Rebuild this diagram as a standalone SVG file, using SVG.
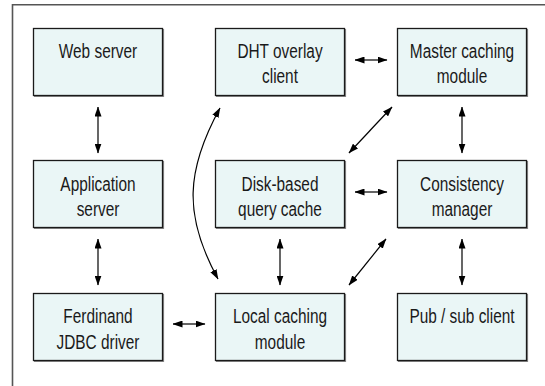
<svg xmlns="http://www.w3.org/2000/svg" width="545" height="386" viewBox="0 0 545 386">
<defs>
<marker id="ah" viewBox="0 0 10 7" refX="9.5" refY="3.5" markerWidth="10" markerHeight="7" markerUnits="userSpaceOnUse" orient="auto-start-reverse">
<path d="M0,0 L10,3.5 L0,7 z" fill="#000"/>
</marker>
<style>
.box{fill:#eaf6f6;stroke:#1a1a1a;stroke-width:1.3}
.sh{fill:none;stroke:#8a8a8a;stroke-width:1.2}
.t{font-family:"Liberation Sans",Arial,sans-serif;font-size:20px;fill:#1a1a1a;text-anchor:middle}
.c{fill:none;stroke:#000;stroke-width:1.2;marker-start:url(#ah);marker-end:url(#ah)}
</style>
</defs>
<rect width="545" height="386" fill="#fff"/>
<path d="M12.5,390 V4.8 H550" fill="none" stroke="#555" stroke-width="1.6"/>

<g id="web-server">
<path class="sh" d="M163.5,29 V96.5 H34"/>
<rect class="box" x="33.5" y="28.5" width="129" height="67"/>
<text class="t" transform="translate(98,58) scale(0.77,1)">Web server</text>
</g>
<g id="dht-overlay-client">
<path class="sh" d="M345.5,29 V96.5 H216"/>
<rect class="box" x="215.5" y="28.5" width="129" height="67"/>
<text class="t" transform="translate(280,58) scale(0.77,1)">DHT overlay</text>
<text class="t" transform="translate(280,83) scale(0.77,1)">client</text>
</g>
<g id="master-caching-module">
<path class="sh" d="M527.5,29 V96.5 H398"/>
<rect class="box" x="397.5" y="28.5" width="129" height="67"/>
<text class="t" transform="translate(462,58) scale(0.77,1)">Master caching</text>
<text class="t" transform="translate(462,83) scale(0.77,1)">module</text>
</g>
<g id="application-server">
<path class="sh" d="M163.5,161 V228.5 H34"/>
<rect class="box" x="33.5" y="160.5" width="129" height="67"/>
<text class="t" transform="translate(98,191) scale(0.77,1)">Application</text>
<text class="t" transform="translate(98,216) scale(0.77,1)">server</text>
</g>
<g id="disk-based-query-cache">
<path class="sh" d="M345.5,161 V228.5 H216"/>
<rect class="box" x="215.5" y="160.5" width="129" height="67"/>
<text class="t" transform="translate(280,191) scale(0.77,1)">Disk-based</text>
<text class="t" transform="translate(280,216) scale(0.77,1)">query cache</text>
</g>
<g id="consistency-manager">
<path class="sh" d="M527.5,161 V228.5 H398"/>
<rect class="box" x="397.5" y="160.5" width="129" height="67"/>
<text class="t" transform="translate(462,191) scale(0.77,1)">Consistency</text>
<text class="t" transform="translate(462,216) scale(0.77,1)">manager</text>
</g>
<g id="ferdinand-jdbc-driver">
<path class="sh" d="M163.5,294 V361.5 H34"/>
<rect class="box" x="33.5" y="293.5" width="129" height="67"/>
<text class="t" transform="translate(98,323) scale(0.77,1)">Ferdinand</text>
<text class="t" transform="translate(98,349) scale(0.77,1)">JDBC driver</text>
</g>
<g id="local-caching-module">
<path class="sh" d="M345.5,294 V361.5 H216"/>
<rect class="box" x="215.5" y="293.5" width="129" height="67"/>
<text class="t" transform="translate(280,323) scale(0.77,1)">Local caching</text>
<text class="t" transform="translate(280,349) scale(0.77,1)">module</text>
</g>
<g id="pub-sub-client">
<path class="sh" d="M527.5,294 V361.5 H398"/>
<rect class="box" x="397.5" y="293.5" width="129" height="67"/>
<text class="t" transform="translate(462,323) scale(0.77,1)">Pub / sub client</text>
</g>

<g id="connectors">
<line class="c" x1="98" y1="107" x2="98" y2="153"/>
<line class="c" x1="98" y1="239" x2="98" y2="285"/>
<line class="c" x1="280" y1="239" x2="280" y2="285"/>
<line class="c" x1="462" y1="107" x2="462" y2="153"/>
<line class="c" x1="462" y1="239" x2="462" y2="285"/>
<line class="c" x1="355" y1="60" x2="387" y2="60"/>
<line class="c" x1="355" y1="192" x2="387" y2="192"/>
<line class="c" x1="173" y1="324" x2="205" y2="324"/>
<line class="c" x1="392" y1="107" x2="349" y2="153"/>
<line class="c" x1="386" y1="239" x2="349" y2="285"/>
<path class="c" d="M220,108 C186,170 183,215 218,279"/>
</g>
</svg>
